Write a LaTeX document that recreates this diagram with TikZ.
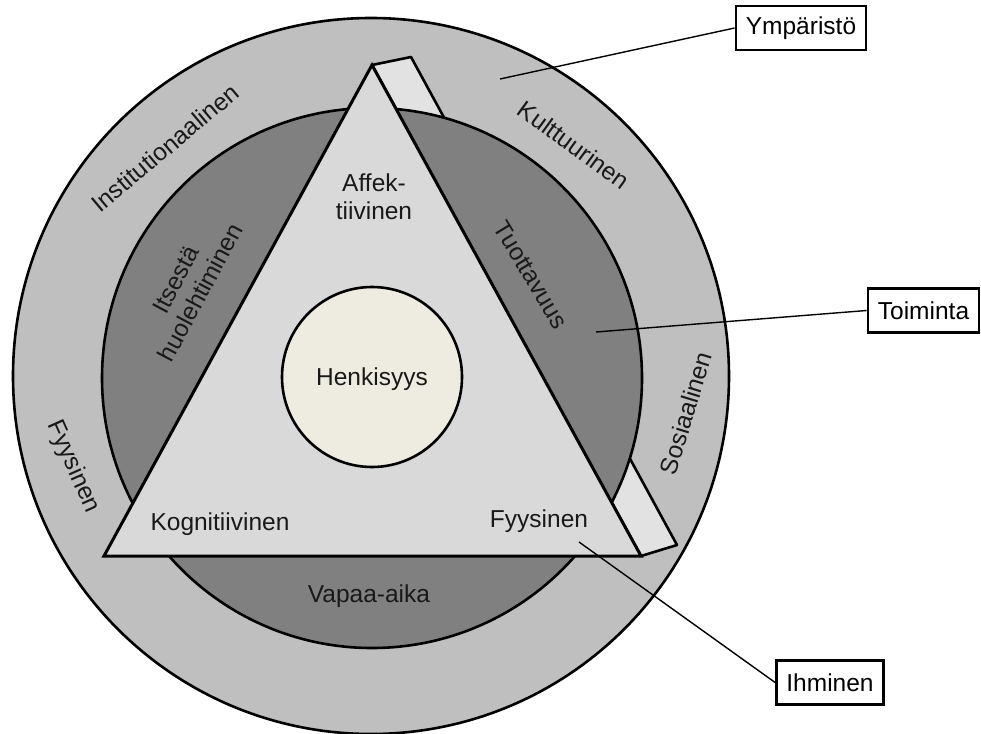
\documentclass[tikz,border=0pt]{standalone}
\usepackage{fontspec}
\setmainfont{Liberation Sans}
\definecolor{ringc}{HTML}{BFBFBF}
\definecolor{innerc}{HTML}{808080}
\definecolor{tric}{HTML}{D9D9D9}
\definecolor{sidec}{HTML}{E2E2E2}
\definecolor{henkc}{HTML}{EEECE1}
\tikzset{
  lbl/.style={font=\fontsize{24.5}{28}\selectfont, text=black!90, align=center, inner sep=0pt},
  callbox/.style={draw, line width=2.6pt, fill=white, font=\fontsize{24.5}{28}\selectfont, minimum height=44pt, inner xsep=10pt},
  callline/.style={line width=1.4pt},
  outl/.style={line width=2.6pt, line join=round}
}
\begin{document}
\begin{tikzpicture}[x=1pt,y=-1pt]
\useasboundingbox (0,0) rectangle (981,733);
% outer ring
\draw[outl, fill=ringc] (371,376) circle[radius=358pt];
% side face of triangle (behind inner circle)
\draw[outl, fill=sidec] (372,65) -- (411,57) -- (677,545) -- (641,556) -- cycle;
% inner circle
\draw[outl, fill=innerc] (372,378) circle[radius=270pt];
% triangle
\draw[line width=3pt, line join=miter, fill=tric] (372,65) -- (104,556) -- (641,556) -- cycle;
% Henkisyys circle
\node[draw, line width=2.6pt, fill=henkc, circle, minimum size=180pt, inner sep=0pt] (henk) at (372,377) {};
\node[lbl] (henkt) at (372,379) {Henkisyys};
% triangle labels
\node[lbl] (affek) at (374,197) {Affek-\\tiivinen};
\node[lbl] (kogn) at (220,524) {Kognitiivinen};
\node[lbl] (fyys1) at (539,521) {Fyysinen};
% inner ring labels
\node[lbl] (vapaa) at (369,596) {Vapaa-aika};
\node[lbl, rotate=62] (itse) at (188,286) {Itsestä\\huolehtiminen};
\node[lbl, rotate=-59] (tuot) at (531,275) {Tuottavuus};
% outer ring labels
\node[lbl, rotate=40] (inst) at (165,148) {Institutionaalinen};
\node[lbl, rotate=-36] (kult) at (574,145) {Kulttuurinen};
\node[lbl, rotate=73] (sosi) at (686,413) {Sosiaalinen};
\node[lbl, rotate=-66] (fyys2) at (73,467) {Fyysinen};
% callouts
\node[callbox] (ymp) at (801,28) {Ympäristö};
\node[callbox] (toim) at (923.5,310.5) {Toiminta};
\node[callbox] (ihm) at (830,682.5) {Ihminen};
\coordinate (ympP) at (500,79);
\coordinate (toimP) at (596,332);
\coordinate (ihmP) at (579,542);
\draw[callline] (ymp.west) -- (ympP);
\draw[callline] (toim.west) -- (toimP);
\draw[callline] (ihmP) -- (ihm.west);
\end{tikzpicture}
\end{document}
